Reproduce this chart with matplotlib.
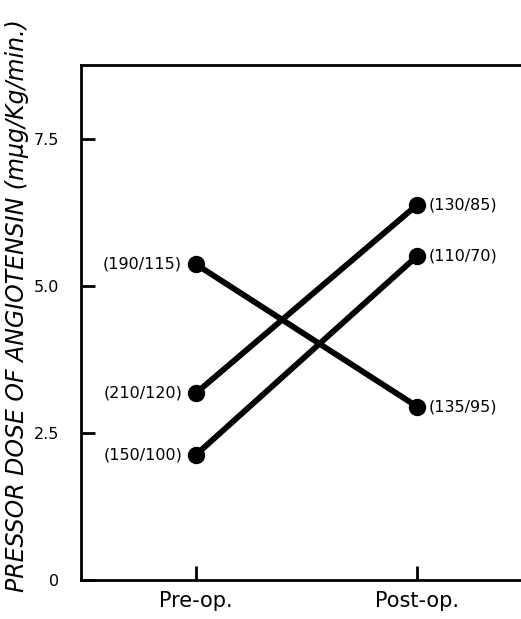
import matplotlib
matplotlib.use("Agg")
import matplotlib.pyplot as plt

# data
stages = ["Pre-op.", "Post-op."]
pre_dose = [5.37, 3.18, 2.13]
post_dose = [2.95, 6.38, 5.51]
pre_bp = ["(190/115)", "(210/120)", "(150/100)"]
post_bp = ["(135/95)", "(130/85)", "(110/70)"]
yticks = [0, 2.5, 5.0, 7.5]
yticklabels = ["0", "2.5", "5.0", "7.5"]

fig = plt.figure(figsize=(5.21, 6.19), dpi=100)
ax = fig.add_axes([0.1555, 0.063, 0.8445, 0.832])

for y0, y1, l0, l1 in zip(pre_dose, post_dose, pre_bp, post_bp):
    ax.plot([0, 1], [y0, y1], color="black", lw=4.2, marker="o", ms=11.5,
            solid_capstyle="butt", zorder=3)
    ax.annotate(l0, (0, y0), xytext=(-10, 0), textcoords="offset points",
                ha="right", va="center", fontsize=11.5, fontweight="medium")
    ax.annotate(l1, (1, y1), xytext=(8, 0), textcoords="offset points",
                ha="left", va="center", fontsize=11.5, fontweight="medium")

ax.set_xlim(-0.52, 1.47)
ax.set_ylim(0, 8.76)
ax.set_xticks([0, 1])
ax.set_xticklabels(stages, fontsize=15)
ax.set_yticks(yticks)
ax.set_yticklabels(yticklabels, fontsize=11.5)
ax.tick_params(direction="in", length=10, width=2)
ax.tick_params(axis="y", pad=16)
ax.tick_params(axis="x", pad=8)
ax.spines["right"].set_visible(False)
for s in ["left", "top", "bottom"]:
    ax.spines[s].set_linewidth(2)

ax.set_ylabel("PRESSOR DOSE OF ANGIOTENSIN (m\u03bcg/Kg/min.)",
              fontsize=17, style="italic")
ax.yaxis.set_label_coords(-0.118, 0.532)

fig.savefig("out.png", dpi=100)
